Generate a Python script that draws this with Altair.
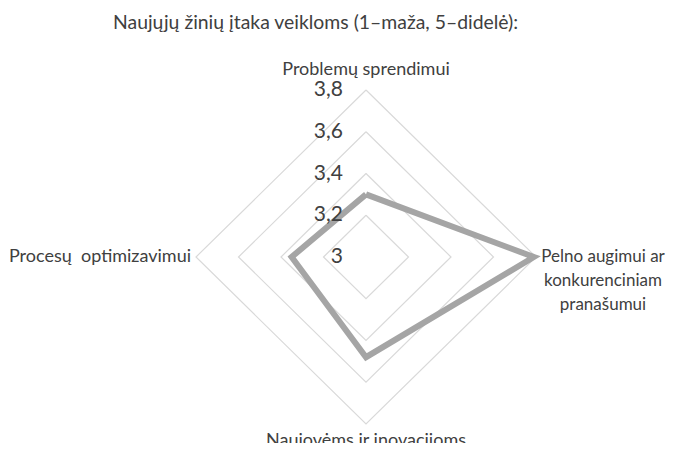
import altair as alt
import pandas as pd

title_text = "Naujųjų žinių įtaka veikloms (1–maža, 5–didelė):"
categories = [
    "Problemų sprendimui",
    "Pelno augimui ar\nkonkurenciniam\npranašumui",
    "Naujovėms ir inovacijoms",
    "Procesų\u00a0 optimizavimui",
]
values = [3.30, 3.79, 3.48, 3.35]
tick_values = [3.0, 3.2, 3.4, 3.6, 3.8]
tick_labels = ["3", "3,2", "3,4", "3,6", "3,8"]
axis_min = 3.0
axis_max = 3.8

n = len(categories)
span = axis_max - axis_min
FONT = "Lato"
TXT = "#404040"

series_df = pd.DataFrame({
    "idx": list(range(n)) + [0],
    "ord": list(range(n + 1)),
    "value": values + [values[0]],
})
grid_rows = []
for lv in tick_values[1:]:
    for k in range(n + 1):
        grid_rows.append({"idx": k % n, "ord": k, "value": lv, "level": lv})
grid_df = pd.DataFrame(grid_rows)
tick_df = pd.DataFrame({"idx": [0] * len(tick_values), "value": tick_values, "label": tick_labels})
cat_df = pd.DataFrame({"idx": list(range(n)), "value": [axis_max] * n, "label": categories})


def polar(ch):
    return ch.transform_calculate(ang=f"datum.idx * 2 * PI / {n}").transform_calculate(
        px=f"(datum.value - {axis_min}) * sin(datum.ang)",
        py=f"(datum.value - {axis_min}) * cos(datum.ang)",
    )


xs = alt.Scale(domain=[-span, span], nice=False, zero=False)
ys = alt.Scale(domain=[-span, span], nice=False, zero=False)
X = alt.X("px:Q", scale=xs, axis=None)
Y = alt.Y("py:Q", scale=ys, axis=None)

grid = polar(alt.Chart(grid_df)).mark_line(
    color="#d9d9d9", strokeWidth=1.2
).encode(x=X, y=Y, detail="level:N", order="ord:Q")

series = polar(alt.Chart(series_df)).mark_line(
    color="#a5a5a5", strokeWidth=6, strokeJoin="miter"
).encode(x=X, y=Y, order="ord:Q")

ticks = polar(alt.Chart(tick_df)).mark_text(
    align="right", baseline="middle", dx=-23, font=FONT, fontSize=21, color=TXT
).encode(x=X, y=Y, text="label:N")


def cat_layer(i, size=18, **kw):
    return polar(alt.Chart(cat_df).transform_filter(f"datum.idx == {i}")).mark_text(
        font=FONT, fontSize=size, color=TXT, lineBreak="\n", lineHeight=24, **kw
    ).encode(x=X, y=Y, text="label:N")


lab_top = cat_layer(0, align="center", baseline="alphabetic", dy=-15)
lab_right = cat_layer(1, size=17, align="center", baseline="middle", dx=67)
lab_bottom = cat_layer(2, align="center", baseline="top", dy=8)
lab_left = cat_layer(3, align="right", baseline="middle", dx=-5)

chart = alt.layer(grid, series, ticks, lab_top, lab_right, lab_bottom, lab_left).properties(
    width=340,
    height=334,
    title=alt.TitleParams(
        text=title_text, anchor="start", frame="group", dx=-83, offset=28,
        font=FONT, fontSize=19.4, fontWeight="normal", color=TXT,
    ),
    autosize=alt.AutoSizeParams(type="none"),
    padding={"left": 188, "top": 82, "right": 131, "bottom": 19},
).configure_view(strokeWidth=0)

chart.save("out.html", embed_options={"renderer": "svg", "actions": False})
